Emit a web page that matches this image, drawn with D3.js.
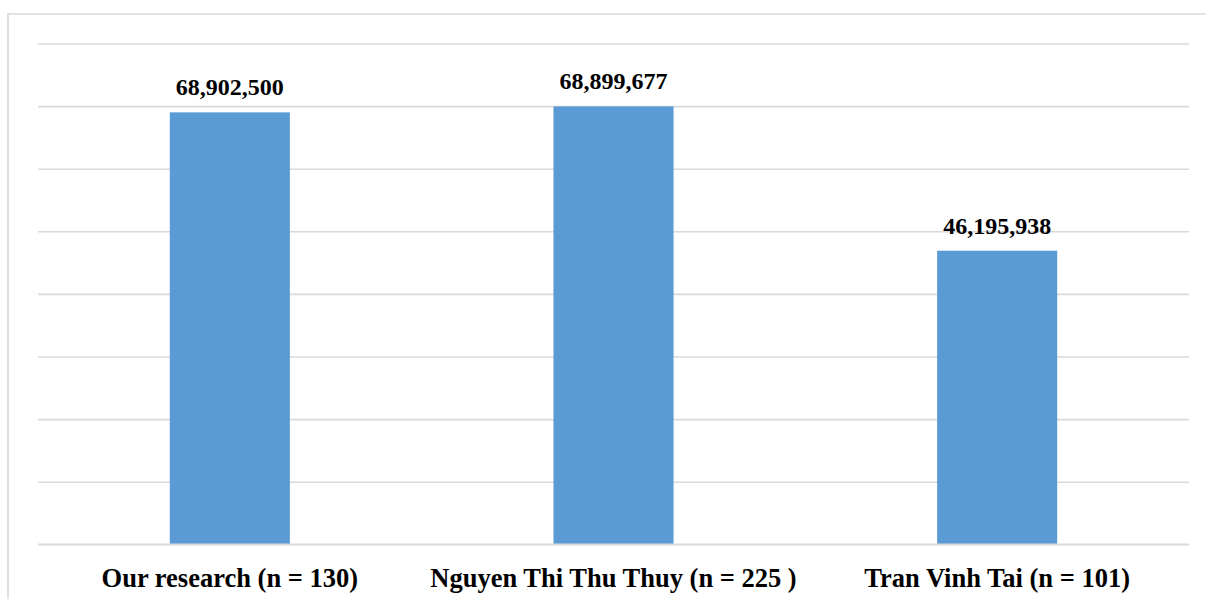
<!DOCTYPE html>
<html>
<head>
<meta charset="utf-8">
<script src="https://cdn.jsdelivr.net/npm/d3@7"></script>
<style>
  html, body { margin: 0; padding: 0; background: #fff; }
  svg { display: block; }
  .lbl { font-family: "Times New Roman", "Liberation Serif", Times, "DejaVu Serif", serif; font-weight: bold; }
</style>
</head>
<body>
<svg id="chart" width="1206" height="599"></svg>
<script>
// Data
const categories = ["Our research (n = 130)", "Nguyen Thi Thu Thuy (n = 225 )", "Tran Vinh Tai (n = 101)"];
const values = [69000000, 69950000, 46900000];           // bar heights as drawn
const valueLabels = ["68,902,500", "68,899,677", "46,195,938"]; // printed data labels
const yTicks = [0, 10000000, 20000000, 30000000, 40000000, 50000000, 60000000, 70000000, 80000000];

const svg = d3.select("#chart");
const W = 1206, H = 599;
const plot = { left: 38, right: 1189, top: 43.5, bottom: 544.3 };

// outer frame
svg.append("path")
  .attr("d", `M8,${H + 5} L8,14 L${W + 5},14`)
  .attr("fill", "none")
  .attr("stroke", "#d9d9d9")
  .attr("stroke-width", 1.6);

const x = d3.scaleBand()
  .domain(categories)
  .range([plot.left, plot.right])
  .paddingInner(0.687)
  .paddingOuter(0.3435);

const y = d3.scaleLinear()
  .domain([0, 80000000])
  .range([plot.bottom, plot.top]);

// gridlines via axis
const grid = svg.append("g")
  .attr("transform", `translate(${plot.left},0)`)
  .call(d3.axisLeft(y).tickValues(yTicks).tickSize(-(plot.right - plot.left)).tickFormat(""));
grid.select(".domain").remove();
grid.selectAll(".tick line").attr("stroke", "#d9d9d9").attr("stroke-width", 1.6);

// bars
svg.append("g").selectAll("rect")
  .data(values)
  .join("rect")
  .attr("x", (d, i) => x(categories[i]))
  .attr("width", x.bandwidth())
  .attr("y", d => y(d))
  .attr("height", d => y(0) - y(d))
  .attr("fill", "#5b9bd5");

// baseline
svg.append("line")
  .attr("x1", plot.left).attr("x2", plot.right)
  .attr("y1", y(0)).attr("y2", y(0))
  .attr("stroke", "#d9d9d9").attr("stroke-width", 1.6);

// value labels
svg.append("g").selectAll("text")
  .data(values)
  .join("text")
  .attr("class", "lbl")
  .attr("x", (d, i) => x(categories[i]) + x.bandwidth() / 2)
  .attr("y", d => y(d) - 17)
  .attr("text-anchor", "middle")
  .style("font-size", "24px")
  .attr("fill", "#000")
  .text((d, i) => valueLabels[i]);

// category axis labels
const xAxis = svg.append("g")
  .attr("transform", `translate(0,${y(0)})`)
  .call(d3.axisBottom(x).tickSize(0).tickPadding(0));
xAxis.select(".domain").remove();
xAxis.attr("font-family", null).attr("font-size", null);
xAxis.selectAll(".tick text")
  .attr("class", "lbl")
  .attr("dy", null)
  .attr("y", 42.5)
  .style("font-size", "26.5px")
  .attr("fill", "#000");
</script>
</body>
</html>
